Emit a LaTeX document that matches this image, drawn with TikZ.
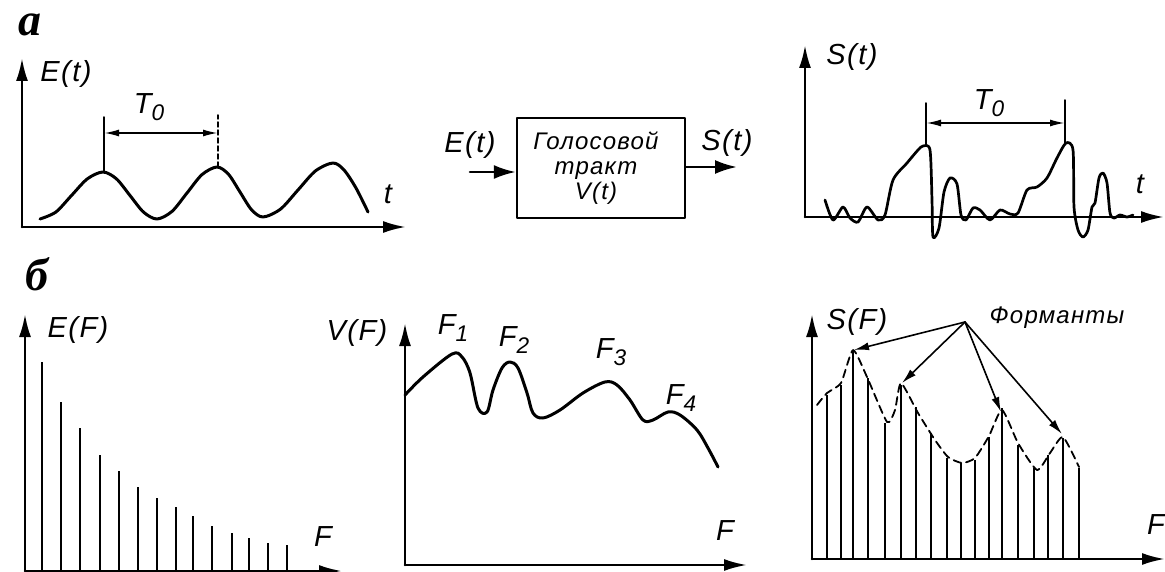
\documentclass[tikz,border=0pt]{standalone}
\usepackage{fontspec}
\newfontfamily\lblfont[LetterSpace=5]{Liberation Sans}
\newfontfamily\markfont{Liberation Serif}
\usetikzlibrary{arrows.meta}
\newcommand\lowidx[1]{\raisebox{-0.45ex}{\scalebox{0.78}{#1}}}

\begin{document}
\begin{tikzpicture}[
  x=1pt,
  y=-1pt,
  line cap=round,
  line join=round,
  axis/.style={draw=black, line width=2.6pt, -{Latex[length=23pt,width=12pt]}},
  curve/.style={draw=black, line width=3pt},
  specline/.style={draw=black, line width=2.9pt, line cap=butt},
  marker/.style={draw=black, line width=1.5pt},
  dimarrow/.style={draw=black, line width=1.8pt, {Latex[length=15pt,width=7pt]}-{Latex[length=15pt,width=7pt]}},
  envelope/.style={draw=black, line width=1.8pt, dash pattern=on 8pt off 5pt},
  formarrow/.style={draw=black, line width=1.6pt, -{Latex[length=15pt,width=8pt]}},
  sigarrow/.style={draw=black, line width=2.6pt, -{Latex[length=22pt,width=14pt]}},
  label/.style={font=\lblfont\itshape\fontsize{29}{31}\selectfont, inner sep=0},
  boxtext/.style={font=\lblfont\itshape\fontsize{24}{25}\selectfont, inner sep=0, align=center},
  panelmark/.style={font=\markfont\bfseries\itshape\fontsize{46}{46}\selectfont, inner sep=0},
  every node/.style={inner sep=0}
]
\path[use as bounding box] (0,0) rectangle (1165,572);
\fill[white] (0,0) rectangle (1165,572);

% Panel marks
\node[panelmark] (markA) at (30,25) {а};
\node[panelmark] (markB) at (37,274) {б};

% a: excitation E(t)
\coordinate (oA) at (22,227);
\coordinate (yA) at (22,58);
\coordinate (xA) at (406,227);
\draw[axis] (oA) -- (yA);
\draw[axis] (oA) -- (xA);
\node[label] (lblEt) at (66,74) {E(t)};
\node[label] (lblTa) at (388,194) {t};
\draw[curve] plot[smooth, tension=0.5] coordinates {(40,219) (55.8,212.1) (71.5,195.5) (87.3,178.9)
  (103,172) (116.5,178.9) (130,195.5) (143.5,212.1) (157,219) (172,211.4) (187,193) (202,174.6)
  (217,167) (228.5,174.3) (240,192) (251.5,209.7) (263,217) (280.5,209.1) (298,190) (315.5,170.9)
  (333,163) (344,170) (356,188) (368,212)};
\coordinate (pkA1) at (104,172);
\coordinate (pkA2) at (218,167);
\coordinate (tpA1) at (104,117);
\coordinate (tpA2) at (218,115);
\draw[marker] (pkA1) -- (tpA1);
\draw[marker, dash pattern=on 5pt off 3pt] (pkA2) -- (tpA2);
\draw[dimarrow] (104,133) -- (218,133);
\node[label] (lblT0a) at (149,107) {T\lowidx{0}};

% a: vocal tract block
\node[draw=black, line width=2.4pt, minimum width=168, minimum height=100] (tract) at (601,168) {};
\node[boxtext] (tracttxt) at (596,168) {Голосовой\\тракт\\ V(t)};
\coordinate (inE) at (470,172);
\coordinate (outS) at (737,167);
\draw[sigarrow] (inE) -- (inE -| tract.west);
\draw[sigarrow] (outS -| tract.east) -- (outS);
\node[label] (lblEin) at (470,145) {E(t)};
\node[label] (lblSout) at (727,143) {S(t)};

% a: speech signal S(t)
\coordinate (oC) at (805,217);
\coordinate (yC) at (805,45);
\coordinate (xC) at (1164,217);
\draw[axis] (oC) -- (yC);
\draw[axis] (oC) -- (xC);
\node[label] (lblSt) at (852,57) {S(t)};
\node[label] (lblTc) at (1140,184) {t};
\draw[curve, line width=2.7pt] plot[smooth, tension=0.45] coordinates {(825,200) (833,220) (843,207)
  (850,218) (858,222) (867,207) (878,220) (885,215) (893,180) (907,163) (918,150) (923,146)
  (930,150) (932,200) (933,237) (939,228) (944,192) (950,178) (957,184) (961,215) (966,220)
  (973,208) (980,210) (990,220) (1000,210) (1010,214) (1018,213) (1027,190) (1037,187)
  (1047,178) (1057,158) (1066,143) (1073,150) (1074,207) (1078,230) (1083,237) (1088,230)
  (1092,207) (1095,203) (1099,178) (1103,173) (1107,183) (1110,213) (1114,218) (1120,215)
  (1127,217) (1133,215)};
\coordinate (pkC1) at (926,145);
\coordinate (pkC2) at (1065,143);
\coordinate (tpC1) at (926,103);
\coordinate (tpC2) at (1065,100);
\draw[marker] (pkC1) -- (tpC1);
\draw[marker] (pkC2) -- (tpC2);
\draw[dimarrow] (926,123) -- (1065,123);
\node[label] (lblT0c) at (989,103) {T\lowidx{0}};

% b: line spectrum E(F)
\coordinate (oD) at (25,571);
\coordinate (yD) at (25,314);
\coordinate (xD) at (342,571);
\draw[axis] (oD) -- (yD);
\draw[axis] (oD) -- (xD);
\node[label] (lblEF) at (78,330) {E(F)};
\node[label] (lblFd) at (323,537) {F};
\foreach \x/\h in {42/362, 61/402, 80/428, 100/455, 119/471, 138/487, 157/498,
                   176/507, 193/516, 212/526, 232/533, 249/538, 268/543, 287/545}
  \draw[specline] (\x,571) -- (\x,\h);

% b: transfer function V(F)
\coordinate (oE) at (405,565);
\coordinate (yE) at (405,323);
\coordinate (xE) at (747,565);
\draw[axis] (oE) -- (yE);
\draw[axis] (oE) -- (xE);
\node[label] (lblVF) at (357,333) {V(F)};
\node[label] (lblFe) at (725,531) {F};
\draw[curve] plot[smooth, tension=0.55] coordinates {(405,395) (423,377) (452,354) (462,357)
  (470,373) (478,408) (487,412) (493,390) (502,368) (510,362) (518,368) (527,393) (533,413)
  (543,418) (560,410) (583,393) (605,382) (617,385) (630,400) (643,420) (653,420) (668,412)
  (680,415) (697,430) (708,448) (718,467)};
\node[label] (lblF1) at (453,328) {F\lowidx{1}};
\node[label] (lblF2) at (514,340) {F\lowidx{2}};
\node[label] (lblF3) at (611,352) {F\lowidx{3}};
\node[label] (lblF4) at (681,398) {F\lowidx{4}};

% b: speech spectrum S(F)
\coordinate (oF) at (812,559);
\coordinate (yF) at (812,314);
\coordinate (xF) at (1165,559);
\draw[axis] (oF) -- (yF);
\draw[axis] (oF) -- (xF);
\node[label] (lblSF) at (857,322) {S(F)};
\node[label, anchor=east] (lblFf) at (1165,525) {F};
\foreach \x/\h in {827/395, 841/385, 853/350, 868/378, 885/423, 901/385, 916/407, 931/433, 947/458,
                   961/463, 975/460, 989/437, 1002/408, 1018/445, 1034/468, 1048/455, 1063/438, 1079/468}
  \draw[specline] (\x,559) -- (\x,\h);
\draw[envelope] plot[smooth, tension=0.35] coordinates {(817,405) (827,393) (841,383) (853,350)
  (867,377) (887,422) (895,410) (901,383) (918,413) (935,440) (948,457) (962,463) (975,458)
  (989,436) (1002,410) (1018,443) (1037,470) (1050,453) (1063,437) (1079,467)};

% Formant pointers
\node[font=\lblfont\itshape\fontsize{24}{26}\selectfont] (formants) at (1057,318) {Форманты};
\coordinate (fsrc) at (965,322);
\coordinate (fpk1) at (854,350);
\coordinate (fpk2) at (902,383);
\coordinate (fpk3) at (1001,412);
\coordinate (fpk4) at (1062,434);
\foreach \p in {fpk1, fpk2, fpk3, fpk4}
  \draw[formarrow] (fsrc) -- (\p);

\end{tikzpicture}
\end{document}
